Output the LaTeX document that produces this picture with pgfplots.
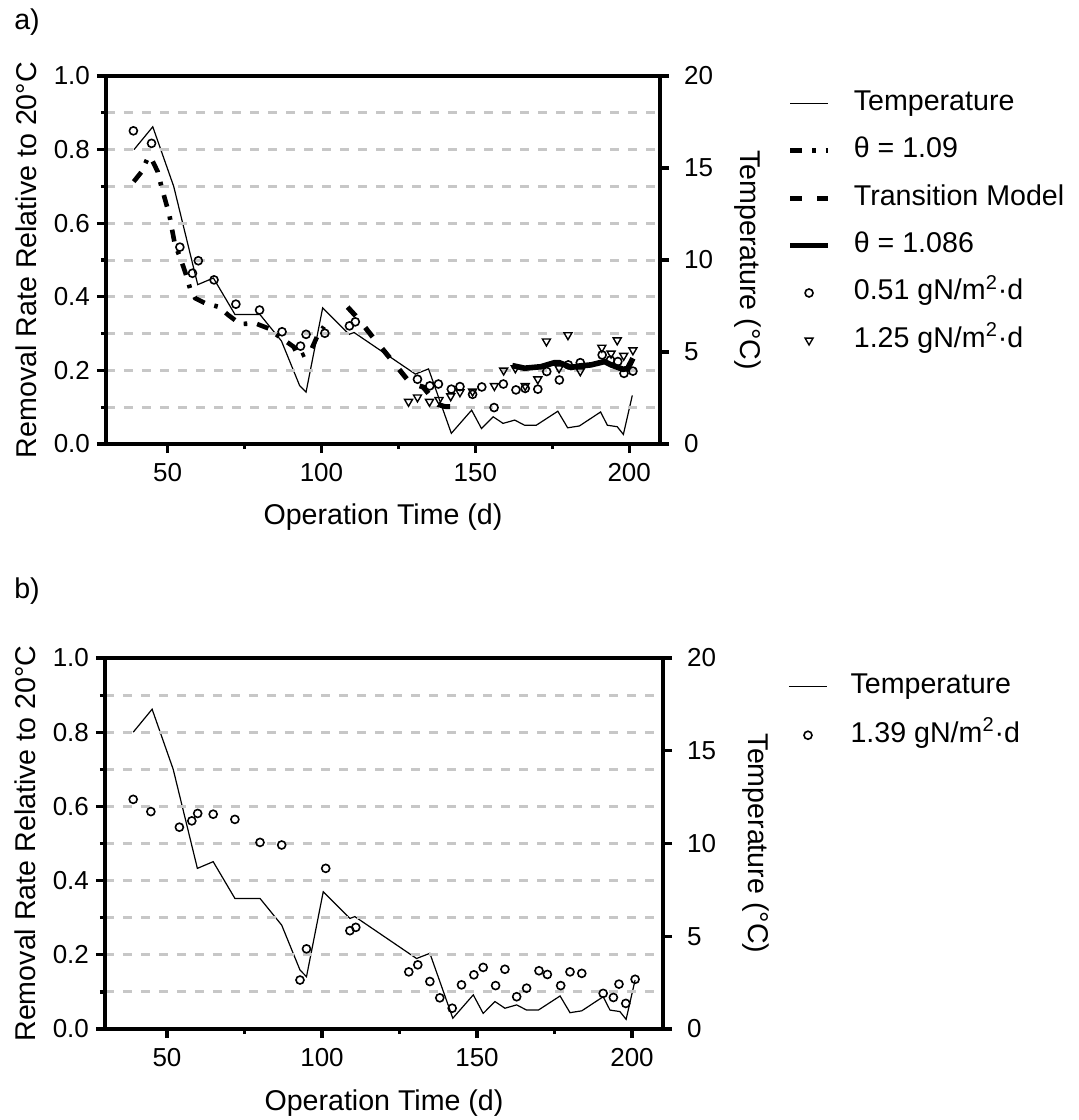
\documentclass[border=0pt]{standalone}
\usepackage{fontspec}
\setmainfont{Liberation Sans}
\usepackage{pgfplots}
\pgfplotsset{compat=1.18}
\usepackage{pgfplotstable}

\pgfplotstableread{
x t
39.1 16.0
45.2 17.24
52.0 14.0
59.8 8.66
64.9 9.02
71.9 7.04
80.0 7.04
87.0 5.6
92.9 3.18
95.0 2.82
100.4 7.4
109.0 5.96
110.6 6.06
130.5 3.8
134.8 4.08
142.2 0.58
148.8 1.84
152.0 0.84
155.8 1.48
159.0 1.12
162.8 1.3
166.0 1.02
169.8 1.02
176.8 1.78
180.0 0.88
183.8 0.98
190.7 1.74
192.9 1.02
196.1 0.94
198.1 0.52
201.0 2.64
}\temptab

\pgfplotstableread{
x y
39.0 0.713
41.6 0.740
43.5 0.776
44.5 0.780
46.8 0.740
48.0 0.700
50.6 0.622
52.4 0.541
54.0 0.509
55.7 0.468
57.3 0.423
59.0 0.396
62.4 0.382
66.5 0.373
69.8 0.350
73.6 0.326
78.5 0.328
82.8 0.314
85.6 0.296
91.0 0.264
92.6 0.237
96.4 0.251
98.6 0.292
100.8 0.319
}\thetaA

\pgfplotstableread{
x y
108.5 0.372
112.0 0.340
117.0 0.287
123.0 0.226
128.4 0.170
131.0 0.160
133.0 0.155
135.5 0.130
138.0 0.107
140.0 0.102
143.1 0.101
}\transtab

\pgfplotstableread{
x y
162.0 0.213
166.0 0.206
171.3 0.210
175.7 0.221
177.3 0.221
181.1 0.208
183.8 0.212
187.6 0.215
192.0 0.224
194.1 0.215
198.0 0.203
199.5 0.205
201.2 0.233
}\thetaB

\pgfplotstableread{
x y
38.9 0.851
44.8 0.817
54.0 0.535
58.1 0.464
60.0 0.498
65.1 0.446
72.2 0.380
79.9 0.364
87.2 0.305
93.2 0.266
95.0 0.298
101.1 0.301
109.1 0.321
111.0 0.332
131.2 0.176
135.2 0.158
138.0 0.163
142.2 0.149
145.0 0.156
149.1 0.135
152.1 0.155
156.1 0.099
159.1 0.163
163.2 0.147
166.2 0.151
170.3 0.149
173.2 0.197
177.3 0.174
180.2 0.215
184.1 0.221
191.2 0.242
193.9 0.228
196.3 0.224
198.3 0.192
201.2 0.198
}\circA

\pgfplotstableread{
x y
128.3 0.115
131.2 0.127
135.1 0.115
138.2 0.120
142.0 0.130
145.0 0.141
149.1 0.143
156.2 0.158
159.2 0.200
163.0 0.206
166.2 0.158
170.3 0.176
173.1 0.279
177.2 0.206
180.1 0.296
184.1 0.198
191.1 0.262
194.1 0.246
196.1 0.282
198.2 0.240
201.2 0.255
}\triA

\pgfplotstableread{
x y
39.1 0.619
44.8 0.586
54.0 0.544
58.0 0.561
59.9 0.581
64.9 0.579
71.9 0.565
80.0 0.503
87.0 0.496
92.9 0.132
95.0 0.216
101.2 0.433
109.0 0.265
110.9 0.274
128.0 0.154
130.9 0.173
134.8 0.128
138.0 0.084
142.0 0.056
145.0 0.119
149.0 0.146
152.0 0.166
156.0 0.117
159.0 0.161
162.8 0.087
166.0 0.110
170.0 0.157
172.7 0.147
177.0 0.117
180.0 0.154
183.8 0.150
190.7 0.096
194.0 0.085
195.8 0.121
198.0 0.069
201.0 0.134
}\circB

\pgfplotsset{
  base/.style={
    scale only axis, xmin=30, xmax=210,
    tick align=outside,
    major tick length=4.5pt, minor tick length=2.5pt,
    every tick/.style={black, line width=1.6pt},
    axis line style={line width=1.8pt},
    tick label style={font=\fontsize{13}{15}\selectfont},
    label style={font=\fontsize{14.3}{17}\selectfont},
    /pgf/number format/assume math mode=true,
  },
  tempaxis/.style={
    base, ymin=0, ymax=20, ytick={0,5,10,15,20},
    axis y line*=right, axis x line=none,
    yticklabel style={xshift=4pt},
    ylabel={Temperature (°C)},
  },
  mainaxis/.style={
    base, ymin=0, ymax=1,
    xtick={50,100,150,200}, minor xtick={75,125,175},
    ytick={0,0.2,0.4,0.6,0.8,1}, minor ytick={0.1,0.3,0.5,0.7,0.9},
    ytick pos=left, xtick pos=bottom,
    ymajorgrids, yminorgrids,
    major grid style={black!22, line width=1.5pt, dash pattern=on 4.5pt off 4.5pt},
    minor grid style={black!22, line width=1.5pt, dash pattern=on 4.5pt off 4.5pt},
    yticklabel style={/pgf/number format/.cd, fixed, fixed zerofill, precision=1},
    xticklabel style={yshift=-1.5pt},
    xlabel={Operation Time (d)},
    ylabel={Removal Rate Relative to 20°C},
    legend cell align=left,
    legend image code/.code={\draw[mark repeat=2,mark phase=2] plot coordinates {(0pt,0pt) (9.5pt,0pt) (19pt,0pt)};},
  },
  tempstyle/.style={black, line width=0.6pt},
  circstyle/.style={only marks, mark=o, mark size=2pt, mark options={fill=white, line width=0.8pt}},
  tristyle/.style={only marks, mark=triangle, mark size=2.3pt, mark options={fill=white, line width=0.7pt, rotate=180}},
}

\begin{document}
\begin{tikzpicture}
\useasboundingbox (-53pt,-338pt) rectangle (486.5pt,222pt);
\node[font=\fontsize{14.3}{17}\selectfont] at (-39.5pt,211pt) {a)};
\node[font=\fontsize{14.3}{17}\selectfont] at (-39.5pt,-73.5pt) {b)};

% ---- panel a) ----
\begin{axis}[tempaxis, at={(0pt,0pt)}, anchor=south west, width=277pt, height=184pt,
  ylabel style={at={(axis description cs:1.159,0.5)}, anchor=center, rotate=180}]
\addplot[tempstyle] table[x=x,y=t]{\temptab};
\end{axis}
\begin{axis}[mainaxis, at={(0pt,0pt)}, anchor=south west, width=277pt, height=184pt,
  xlabel style={at={(axis description cs:0.5,-0.198)}, anchor=center},
  ylabel style={at={(axis description cs:-0.144,0.5)}, anchor=center},
  legend style={at={(axis description cs:1.229,0.962)}, anchor=north west, draw=none, fill=none,
    inner sep=0pt, row sep=10.7pt,
    nodes={inner sep=0pt, text height=10pt, text depth=3pt, font=\fontsize{14.3}{17}\selectfont},
    /tikz/every odd column/.style={column sep=11.5pt}}]
\addlegendimage{tempstyle}
\addlegendentry{Temperature}
\addplot[black, line width=2.3pt, dash pattern=on 6pt off 5pt on 1.8pt off 5pt] table[x=x,y=y]{\thetaA};
\addlegendentry{θ = 1.09}
\addplot[black, line width=2.5pt, dash pattern=on 6pt off 7.5pt] table[x=x,y=y]{\transtab};
\addlegendentry{Transition Model}
\addplot[black, line width=2.8pt] table[x=x,y=y]{\thetaB};
\addlegendentry{θ = 1.086}
\addplot[circstyle] table[x=x,y=y]{\circA};
\addlegendentry{0.51 gN/m\textsuperscript{2}·d}
\addplot[tristyle] table[x=x,y=y]{\triA};
\addlegendentry{1.25 gN/m\textsuperscript{2}·d}
\end{axis}

% ---- panel b) ----
\begin{axis}[tempaxis, at={(-0.5pt,-292.5pt)}, anchor=south west, width=279pt, height=185.5pt,
  ylabel style={at={(axis description cs:1.167,0.5)}, anchor=center, rotate=180}]
\addplot[tempstyle] table[x=x,y=t]{\temptab};
\end{axis}
\begin{axis}[mainaxis, at={(-0.5pt,-292.5pt)}, anchor=south west, width=279pt, height=185.5pt,
  xlabel style={at={(axis description cs:0.5,-0.199)}, anchor=center},
  ylabel style={at={(axis description cs:-0.142,0.5)}, anchor=center},
  legend style={at={(axis description cs:1.224,0.960)}, anchor=north west, draw=none, fill=none,
    inner sep=0pt, row sep=11.5pt,
    nodes={inner sep=0pt, text height=10pt, text depth=3pt, font=\fontsize{14.3}{17}\selectfont},
    /tikz/every odd column/.style={column sep=11.5pt}}]
\addlegendimage{tempstyle}
\addlegendentry{Temperature}
\addplot[circstyle] table[x=x,y=y]{\circB};
\addlegendentry{1.39 gN/m\textsuperscript{2}·d}
\end{axis}
\end{tikzpicture}
\end{document}
